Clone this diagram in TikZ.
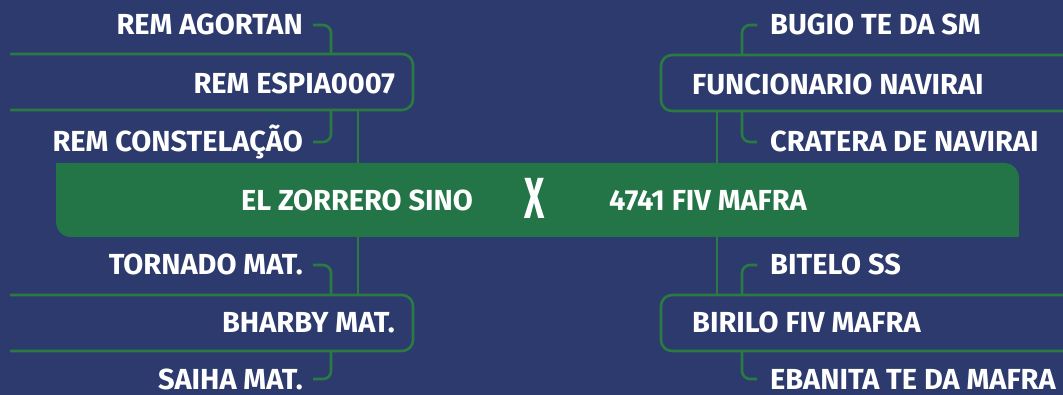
\documentclass[tikz,border=0pt]{standalone}
\usepackage{fontspec}
\setmainfont{Fira Sans}
\definecolor{bg}{HTML}{2D3A6E}
\definecolor{hubgreen}{HTML}{237446}
\definecolor{linegreen}{HTML}{2B7A3F}
\begin{document}
\begin{tikzpicture}[x=1pt,y=-1pt,
  lbl/.style={text=white,font=\bfseries\fontsize{29}{29}\selectfont,inner sep=0pt,text height=20pt,text depth=0pt},
  conn/.style={draw=linegreen,line width=2.6pt,rounded corners=8pt},
  frame/.style={draw=linegreen,line width=2.6pt,rounded corners=11pt},
  trunk/.style={draw=linegreen,line width=2.8pt},
  hubbox/.style={fill=hubgreen,rounded corners=15pt,minimum width=963pt,minimum height=74pt,inner sep=0pt}]
\fill[bg] (0,0) rectangle (1063,395);
\useasboundingbox (0,0) rectangle (1063,395);

% central bar
\node[hubbox] (hub) at (537.5,200) {};
\fill[hubgreen] (hub.north west) rectangle ++(24,27);
\fill[hubgreen] (hub.south east) rectangle ++(-24,-27);
\node[lbl] (home) at (357,201) {EL ZORRERO SINO};
\node[text=white,inner sep=0pt,anchor=base,font=\bfseries\fontsize{58}{58}\selectfont] (vs) at (535,219) {\scalebox{0.6}[1]{X}};
\node[lbl] (away) at (708,201) {4741 FIV MAFRA};

% ---------- left top ----------
\coordinate (LTa) at (10,54); \coordinate (LTb) at (413,54);
\coordinate (LTc) at (413,110); \coordinate (LTd) at (10,110);
\draw[frame] (LTa) -- (LTb) -- (LTc) -- (LTd);
\coordinate (LTup) at (331,54); \coordinate (LTdn) at (331,110); \coordinate (LTm) at (358,110);
\node[lbl,anchor=east] (espia) at (395,84) {REM ESPIA0007};
\node[lbl,anchor=east] (agortan) at (303,25) {REM AGORTAN};
\node[lbl,anchor=east] (constel) at (303,142) {REM CONSTELAÇÃO};
\draw[conn] ([xshift=10pt]agortan.east) -| (LTup);
\draw[conn] ([xshift=10pt]constel.east) -| (LTdn);
\draw[trunk] (LTm) -- (LTm |- hub.north);

% ---------- left bottom ----------
\coordinate (LBa) at (10,295); \coordinate (LBb) at (413,295);
\coordinate (LBc) at (413,351); \coordinate (LBd) at (10,351);
\draw[frame] (LBa) -- (LBb) -- (LBc) -- (LBd);
\coordinate (LBup) at (331,295); \coordinate (LBdn) at (331,351); \coordinate (LBm) at (358,295);
\node[lbl,anchor=east] (bharby) at (395,323) {BHARBY MAT.};
\node[lbl,anchor=east] (tornado) at (303,265) {TORNADO MAT.};
\node[lbl,anchor=east] (saiha) at (303,379) {SAIHA MAT.};
\draw[conn] ([xshift=10pt]tornado.east) -| (LBup);
\draw[conn] ([xshift=10pt]saiha.east) -| (LBdn);
\draw[trunk] (LBm |- hub.south) -- (LBm);

% ---------- right top ----------
\coordinate (RTa) at (1063,55); \coordinate (RTb) at (661,55);
\coordinate (RTc) at (661,111); \coordinate (RTd) at (1063,111);
\draw[frame] (RTa) -- (RTb) -- (RTc) -- (RTd);
\coordinate (RTup) at (742,55); \coordinate (RTdn) at (742,111); \coordinate (RTm) at (717,111);
\node[lbl,anchor=west] (func) at (692,85) {FUNCIONARIO NAVIRAI};
\node[lbl,anchor=west] (bugio) at (770,25) {BUGIO TE DA SM};
\node[lbl,anchor=west] (cratera) at (770,142) {CRATERA DE NAVIRAI};
\draw[conn] ([xshift=-13pt]bugio.west) -| (RTup);
\draw[conn] ([xshift=-13pt]cratera.west) -| (RTdn);
\draw[trunk] (RTm) -- (RTm |- hub.north);

% ---------- right bottom ----------
\coordinate (RBa) at (1063,295); \coordinate (RBb) at (661,295);
\coordinate (RBc) at (661,351); \coordinate (RBd) at (1063,351);
\draw[frame] (RBa) -- (RBb) -- (RBc) -- (RBd);
\coordinate (RBup) at (742,295); \coordinate (RBdn) at (742,351); \coordinate (RBm) at (717,295);
\node[lbl,anchor=west] (birilo) at (692,323) {BIRILO FIV MAFRA};
\node[lbl,anchor=west] (bitelo) at (770,265) {BITELO SS};
\node[lbl,anchor=west] (ebanita) at (770,379) {EBANITA TE DA MAFRA};
\draw[conn] ([xshift=-13pt]bitelo.west) -| (RBup);
\draw[conn] ([xshift=-13pt]ebanita.west) -| (RBdn);
\draw[trunk] (RBm |- hub.south) -- (RBm);
\end{tikzpicture}
\end{document}
